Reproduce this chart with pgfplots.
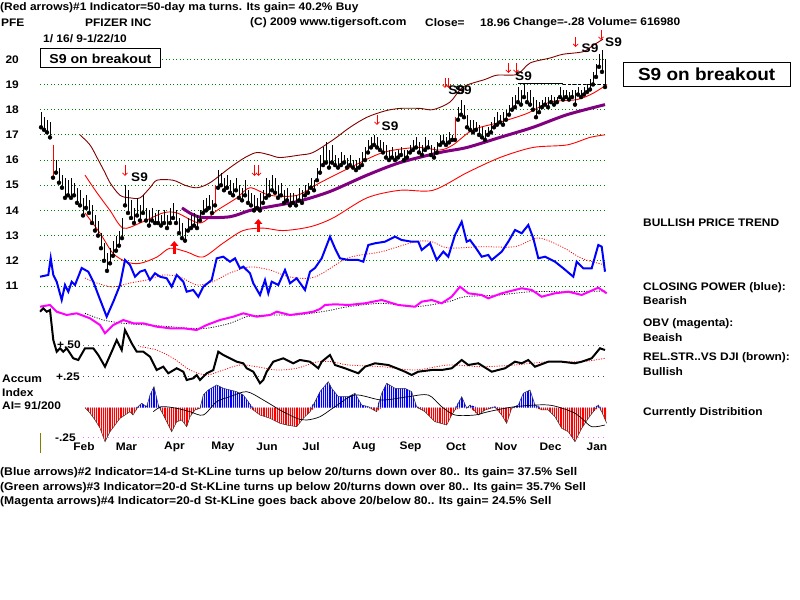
\documentclass[border=0pt]{standalone}
\usepackage{fontspec}
\setmainfont{Liberation Sans}[FakeStretch=1.09]
\usepackage{pgfplots}
\pgfplotsset{compat=1.18}
\usepackage{pgfplotstable}
\usepgfplotslibrary{fillbetween}
\usetikzlibrary{arrows.meta,patterns.meta}
\definecolor{gridg}{RGB}{0,128,0}
\definecolor{dkred}{RGB}{128,0,0}
\definecolor{purp}{RGB}{128,0,128}
\definecolor{mag}{RGB}{255,0,255}
\definecolor{olv}{RGB}{128,128,0}
\newcommand{\ft}{\bfseries\fontsize{11}{13}\selectfont}

% price bars: x(pixel column) low high (price in $)
\pgfplotstableread{
x lo hi
41 17.3 17.9
44 17.2 17.7
47 17.1 17.6
50 16.9 17.5
56 15.5 16.0
59 15.1 15.7
62 14.9 15.4
65 14.5 15.3
68 14.6 15.2
71 14.5 15.3
74 14.6 15.1
77 14.3 14.9
80 14.2 14.8
83 13.8 14.5
86 14.1 14.6
89 13.9 14.4
92 13.5 14.2
95 13.2 13.8
98 13.0 13.6
101 12.5 13.1
104 12.0 12.7
107 11.6 12.3
110 11.9 12.5
113 12.2 12.8
116 12.4 13.0
119 12.6 13.2
122 12.9 13.7
125 14.2 15.0
128 13.9 14.8
131 13.7 14.4
134 13.5 14.1
137 13.8 14.5
140 13.6 14.2
143 13.9 14.6
146 13.6 14.1
149 13.4 14.0
152 13.6 14.1
155 13.5 13.9
158 13.5 14.0
161 13.4 13.8
164 13.5 14.0
167 13.3 13.8
170 13.5 14.1
173 13.7 14.3
176 13.5 14.0
179 13.1 13.7
182 12.9 13.5
185 12.8 13.3
188 13.2 13.7
191 13.3 13.8
194 13.4 13.9
197 13.3 13.8
200 13.6 14.0
203 13.9 14.4
206 14.0 14.5
209 14.1 14.6
212 13.9 14.4
218 14.9 15.6
221 15.0 15.5
224 14.8 15.3
227 14.9 15.4
230 14.7 15.2
233 14.6 15.1
236 14.8 15.3
239 14.5 15.0
242 14.4 14.9
245 14.6 15.2
248 14.3 14.8
251 14.2 14.7
254 14.0 14.6
257 14.1 14.5
260 14.0 14.7
263 14.3 14.8
266 14.5 15.3
269 14.6 15.2
272 14.8 15.4
275 14.7 15.3
278 14.5 15.0
281 14.6 15.1
284 14.3 14.8
287 14.4 14.9
290 14.2 14.7
293 14.3 14.7
296 14.2 14.6
299 14.4 14.9
302 14.3 14.8
305 14.6 15.0
308 14.7 15.1
311 14.9 15.3
314 14.8 15.2
317 15.2 15.7
320 15.5 16.2
323 15.8 16.5
326 15.9 16.7
329 15.7 16.4
332 15.9 16.6
335 15.8 16.2
338 15.7 16.1
341 15.8 16.3
344 15.9 16.2
347 15.7 16.1
350 15.8 16.2
353 15.7 16.0
356 15.6 16.0
359 15.7 16.1
362 15.8 16.3
365 16.0 16.5
368 16.3 16.8
371 16.5 16.9
374 16.6 17.0
377 16.5 16.9
380 16.4 16.8
383 16.3 16.7
386 16.1 16.6
389 16.0 16.4
392 16.1 16.5
395 16.0 16.3
398 16.1 16.4
401 16.2 16.5
404 16.0 16.4
407 16.1 16.4
410 16.3 16.6
413 16.4 16.8
416 16.5 16.9
419 16.3 16.7
422 16.2 16.6
425 16.4 16.9
428 16.5 16.8
431 16.2 16.6
434 16.1 16.5
437 16.3 16.7
440 16.6 17.0
443 16.7 17.0
446 16.6 16.9
449 16.7 17.1
452 16.8 17.0
458 17.6 18.1
461 17.8 18.4
464 17.7 18.2
467 17.3 17.8
470 17.2 17.6
473 17.1 17.6
476 17.2 17.5
479 17.0 17.4
482 16.9 17.3
485 16.8 17.2
488 17.0 17.3
491 17.1 17.5
494 17.3 17.7
497 17.4 17.9
500 17.5 17.8
503 17.4 17.9
506 17.6 18.0
509 17.8 18.2
512 18.0 18.5
515 18.1 18.6
518 18.3 18.9
521 18.2 18.8
524 18.5 19.0
527 18.3 18.7
530 18.2 18.8
533 18.0 18.5
536 17.7 18.4
539 17.9 18.3
542 18.1 18.4
545 18.2 18.5
548 18.1 18.5
551 18.3 18.6
554 18.2 18.5
557 18.3 18.5
560 18.5 18.9
563 18.4 18.8
566 18.5 18.8
569 18.4 18.7
572 18.5 18.8
575 18.2 18.8
578 18.6 18.9
581 18.5 18.8
584 18.6 18.9
587 18.7 19.0
590 18.8 19.2
593 19.0 19.5
596 19.3 19.8
599 19.7 20.2
602 19.5 20.35
605 18.9 20.0
}\tbBars
\pgfplotstableread{
x lo hi
53 15.3 16.6
215 14.2 15.0
455 16.8 17.7
}\tbRedBars
\pgfplotstableread{
x p
80 17.0
90 16.6
97 16.1
105 15.5
110 15.1
120 14.6
130 14.5
140 14.5
150 14.9
157 15.2
173 15.2
185 15.0
197 14.9
210 15.1
230 15.7
245 16.1
257 16.3
270 16.2
280 16.1
300 16.2
313 16.3
333 16.8
350 17.3
367 17.7
385 17.95
400 18.05
420 18.05
433 18.0
450 18.3
463 18.9
485 19.2
497 19.37
517 19.4
530 19.85
550 20.05
563 20.2
583 20.3
593 20.55
603 20.8
}\tbUp
\pgfplotstableread{
x p
85 15.4
97 14.7
110 14.0
123 13.3
140 13.5
163 13.9
177 13.9
200 13.5
217 14.0
237 14.5
250 14.9
270 14.6
297 14.6
320 15.1
350 15.7
383 16.3
417 16.5
440 16.4
453 16.6
473 17.2
500 17.5
527 17.85
550 18.3
577 18.4
593 18.65
607 19.0
}\tbMid
\pgfplotstableread{
x p
85 13.9
100 13.1
113 12.3
127 11.95
140 11.9
157 12.15
170 12.5
187 12.35
203 12.15
223 12.7
243 13.2
263 13.3
283 13.2
310 13.35
333 13.7
367 14.5
400 14.8
433 14.8
467 15.5
500 16.1
533 16.5
567 16.6
590 16.9
605 17.0
}\tbLow
\pgfplotstableread{
x p
182 14.1
192 13.85
203 13.72
230 13.75
250 14.0
270 14.15
297 14.35
315 14.55
333 14.8
367 15.4
400 15.9
440 16.3
467 16.5
500 16.9
533 17.3
567 17.8
605 18.2
}\tbMA
% indicator panels: x, py (vertical position, pixel rows)
\pgfplotstableread{
x py
40 276.7
48.3 275
50.7 258
53.3 275
56.7 281.7
61.7 300
65 285
68.3 291.7
71.7 281.7
75 285
81.7 268
88.3 271.7
93.3 281.7
98.3 295
106.7 316.7
113.3 301.7
120 285
125 260
130 265
135 276.7
140 271.7
145 270
150 280
155 273.3
160 276.7
166.7 278.3
171.7 286.7
176.7 275
183.3 281.7
186.7 291.7
193.3 290
198.3 296.7
203.3 286.7
211.7 280
216.7 258.3
223.3 256.7
230 261.7
235 258.3
240 268.3
243.3 266.7
250 273.3
253.3 283.3
260 295
265 280
268.3 293.3
271.7 281.7
278.3 285
285 270
290 283.3
296.7 278.3
305 290
310 271.7
315 268
321.7 258.3
330 236.7
335 248.3
340 258.3
348.3 260
358.3 260
363.3 261.7
368.3 245
375 243.3
385 241.7
395 236.7
401.7 240
411.7 241.7
418.3 241.7
421.7 250
430 243.3
436.7 260
443.3 251.7
448.3 256.7
455 235
461.7 221.7
466.7 241.7
470 240
475 246.7
481.7 256.7
488.3 255
491.7 260
501.7 251.7
508.3 241.7
515 230
521.7 233.3
528.3 225
533.3 238.3
538.3 258.3
545 256.7
555 261.7
563.3 268.3
573.3 276.7
576.7 261.7
583.3 268.3
591.7 268.3
598.3 245
601.7 246.7
605 271.7
}\tbCP
\pgfplotstableread{
x py
85 278
96.7 283
113 287
130 283
146.7 280
163 275
180 277
196.7 285
213 281.7
230 273
250 267
270 270
290 277
315 277
348 258
381.7 251.7
415 241.7
431.7 241.7
448 248
481.7 246.7
515 246.7
538 238
561.7 246.7
581.7 258.3
605 265
}\tbCPma
\pgfplotstableread{
x py
40 306.7
50 305
56.7 311.7
66.7 315
76.7 313.3
90 318.3
100 325
105 333.3
113.3 325
123.3 320
133.3 323.3
143.3 323.3
156.7 326.7
170 328.3
183.3 328.3
196.7 330
206.7 325
220 320
233.3 316.7
243.3 313.3
256.7 316.7
270 315
276.7 311.7
290 315
303.3 313.3
313.3 311.7
320 309
325 305
335 304.3
348.3 305
365 303.3
381.7 300
398.3 305
415 306.7
421.7 301.7
431.7 300
441.7 303.3
451.7 296.7
460 286.7
468.3 293.3
481.7 295
488.3 298.3
501.7 293.3
521.7 288.3
531.7 290
541.7 296.7
555 293.3
568.3 291.7
581.7 295
598.3 287.7
606.7 293.3
}\tbOBV
\pgfplotstableread{
x py
85 313.3
103.3 320
123.3 323.3
146.7 325
170 326.7
190 328.3
206.7 328.3
230 323.3
246.7 316.7
270 315
296.7 315
320 312
331.7 310
348.3 306.7
381.7 303.3
415 306.7
448.3 301.7
465 296.7
498.3 295
531.7 291.7
565 291.7
605 291
}\tbOBVma
\pgfplotstableread{
x py
40 311.7
43.3 308.3
46.7 311.7
50 310
53.3 340
56.7 351.7
60 348.3
63.3 351.7
66.7 348.3
73.3 358.3
78.3 360
85 348.3
93.3 348.3
98.3 355
105 366.7
111.7 351.7
116.7 340
121.7 350
125 330
131.7 343.3
136.7 351.7
143.3 351.7
150 356.7
156.7 370
163.3 366.7
168.3 373.3
176.7 368.3
183.3 371.7
186.7 380
193.3 378.3
196.7 375
200 380
206.7 373.3
213.3 370
218.3 351.7
223.3 355
230 358.3
236.7 361.7
243.3 363.3
246.7 368.3
253.3 371.7
260 383.3
263.3 380
266.7 371.7
273.3 361.7
283.3 358.3
293.3 363.3
300 360
310 361.7
318.3 368.3
321.7 361.7
330 355
335 365
345 368.3
358.3 373.3
365 366.7
375 363.3
388.3 365
396.7 368.3
405 371.7
411.7 375
418.3 371.7
431.7 370
441.7 370
451.7 368.3
461.7 360
468.3 365
478.3 363.3
491.7 371.7
505 368.3
515 361.7
521.7 363.3
528.3 360
535 366.7
548.3 361.7
561.7 361.7
575 363.3
581.7 361.7
591.7 358.3
600 348.3
605 350
}\tbRS
\pgfplotstableread{
x py
140 346.7
156.7 350
173.3 358.3
190 370
206.7 375
223.3 370
240 365
256.7 366.7
276.7 370
296.7 368.3
316.7 362
331.7 361.7
348.3 365
381.7 366.7
415 370
448.3 365
481.7 366.7
515 365
548.3 361.7
581.7 361.7
605 358.3
}\tbRSma
\pgfplotstableread{
x py
85 407.7
90 413
95 420
100 428
105 441.7
110 431.7
115 425
120 418.3
125 415
130 411.7
133 415
138 406.7
141.7 403.3
146.7 406.7
150 395
154 386.7
158.3 405
161.7 411.7
166.7 421.7
171.7 431.7
176.7 421.7
181.7 420
186.7 426.7
190 416.7
195 410
200 408.3
203.3 395
208.3 390
216.7 385
223.3 388.3
230 390
236.7 391.7
243.3 395
248.3 401.7
253.3 410
260 415
270 418.3
280 423.3
286.7 425
296.7 426.7
303.3 418.3
310 411.7
315 401.7
320 391.7
328.3 381.7
331.7 388.3
338.3 396.7
348.3 396.7
355 393.3
361.7 405
368.3 406.7
376.7 411.7
381.7 393.3
386.7 383.3
395 388.3
405 388.3
411.7 391.7
416.7 406.7
425 411.7
435 421.7
446.7 425
451.7 415
455 410
461.7 396.7
466.7 408.3
470 405
478.3 415
485 410
495 406.7
501.7 415
506.7 423.3
511.7 408.3
518.3 405
523.3 393.3
530 390
535 405
541.7 410
548.3 410
555 416.7
561.7 428.3
568.3 431.7
575 441.7
581.7 428.3
588.3 418.3
593.3 411.7
598.3 405
601.7 411.7
606.7 423.3
}\tbAcc
\pgfplotstableread{
x py
153.3 411.7
161.7 406.7
176.7 408.3
190 411.7
203.3 415
216.7 401.7
230 396.7
246.7 391.7
263.3 400
280 410
296.7 418.3
306.7 420
320 416.7
335 406.7
355 395
381.7 400
408.3 396.7
428.3 395
441.7 406.7
455 415
475 415
488.3 411.7
515 406.7
548.3 405
571.7 411.7
581.7 418.3
591.7 426.7
605 425
}\tbAccma

\begin{document}
\begin{tikzpicture}
\begin{axis}[
  at={(0,0)}, anchor=south west,
  width=800bp, height=600bp, scale only axis,
  xmin=0, xmax=800, ymin=-1.465, ymax=22.354,
  axis line style={draw=none}, tick style={draw=none}, major tick length=0pt,
  clip=false,
  ytick={11,12,13,14,15,16,17,18,19,20},
  xtick={84,126.5,174.5,223,267,311,364,410.5,456,506,550.5,597},
  xticklabels={Feb,Mar,Apr,May,Jun,Jul,Aug,Sep,Oct,Nov,Dec,Jan},
  /pgf/number format/assume math mode=true,
  ticklabel style={font=\ft},
  yticklabel style={anchor=west, xshift=2bp},
  xticklabel style={anchor=center, yshift=153bp},
]
% dotted price grid
\pgfplotsinvokeforeach{11,12,13,14,15,16,17,18,19}{
  \addplot[gridg, line width=1bp, dash pattern=on 1bp off 2.5bp, forget plot] coordinates {(40,#1) (605,#1)};
}
\addplot[gridg, line width=1bp, dash pattern=on 1bp off 2.5bp] coordinates {(162,20) (605,20)};
% indicator reference levels (+.50, +.25, -.25)
\addplot[black!60, line width=1bp, dash pattern=on 1bp off 4bp] coordinates {(83,8.630) (605,8.630)};
\addplot[black!70, line width=1bp, dash pattern=on 1bp off 4bp] coordinates {(83,7.400) (605,7.400)};
\addplot[mag!60, line width=1bp, dash pattern=on 1bp off 4bp] coordinates {(83,4.978) (605,4.978)};
% accumulation index (histogram area: red below zero, blue above)
\addplot[name path=accneg, draw=none] table[x=x, y expr={min(20-(\thisrow{py}-59.3)/25.19, 6.169)}] {\tbAcc};
\addplot[name path=accpos, draw=none] table[x=x, y expr={max(20-(\thisrow{py}-59.3)/25.19, 6.169)}] {\tbAcc};
\addplot[name path=zero, draw=none] coordinates {(85,6.169) (606.7,6.169)};
\addplot[fill=red!12, draw=none, postaction={pattern={Lines[angle=90,distance=2.2bp,line width=1.1bp]}, pattern color=red}] fill between[of=accneg and zero];
\addplot[fill=blue!12, draw=none, postaction={pattern={Lines[angle=90,distance=2.2bp,line width=1.1bp]}, pattern color=blue}] fill between[of=accpos and zero];
\addplot[black!80, line width=0.5bp] table[x=x, y expr={20-(\thisrow{py}-59.3)/25.19}] {\tbAcc};
\addplot[black, line width=0.7bp, smooth] table[x=x, y expr={20-(\thisrow{py}-59.3)/25.19}] {\tbAccma};
% bands and moving average
\addplot[dkred, line width=0.9bp, smooth] table[x=x,y=p] {\tbUp};
\addplot[red, line width=0.9bp, smooth] table[x=x,y=p] {\tbMid};
\addplot[red, line width=0.9bp, smooth] table[x=x,y=p] {\tbLow};
\addplot[purp, line width=3bp, smooth] table[x=x,y=p] {\tbMA};
% resistance line
\addplot[black, line width=1bp] coordinates {(518,19.03) (563,19.03)};
\addplot[black, line width=1bp, dash pattern=on 3bp off 2bp] coordinates {(563,19.0) (605,19.0)};
% price bars
\addplot[only marks, mark=none, error bars/.cd, y dir=plus, y explicit, error mark=none,
  error bar style={black, line width=1bp}] table[x=x, y=lo, y error expr=\thisrow{hi}-\thisrow{lo}] {\tbBars};
\addplot[only marks, mark=none, error bars/.cd, y dir=plus, y explicit, error mark=none,
  error bar style={red, line width=1bp}] table[x=x, y=lo, y error expr=\thisrow{hi}-\thisrow{lo}] {\tbRedBars};
% closing power
\addplot[red, line width=0.8bp, dash pattern=on 1bp off 1.5bp, smooth] table[x=x, y expr={20-(\thisrow{py}-59.3)/25.19}] {\tbCPma};
\addplot[blue, line width=2bp] table[x=x, y expr={20-(\thisrow{py}-59.3)/25.19}] {\tbCP};
% OBV
\addplot[black, line width=0.8bp, dash pattern=on 1bp off 1.5bp, smooth] table[x=x, y expr={20-(\thisrow{py}-59.3)/25.19}] {\tbOBVma};
\addplot[mag, line width=2bp] table[x=x, y expr={20-(\thisrow{py}-59.3)/25.19}] {\tbOBV};
% relative strength
\addplot[red, line width=0.8bp, dash pattern=on 1bp off 1.5bp, smooth] table[x=x, y expr={20-(\thisrow{py}-59.3)/25.19}] {\tbRSma};
\addplot[black, line width=2bp] table[x=x, y expr={20-(\thisrow{py}-59.3)/25.19}] {\tbRS};
\end{axis}
\begin{scope}[x=1bp, y=-1bp, shift={(0,600bp)}, every node/.style={font=\ft, inner sep=0pt}]
\node[anchor=west] at (0,7.5) {(Red arrows)\#1 Indicator=50-day ma turns. Its gain= 40.2\% Buy};
\node[anchor=west] at (1,22.5) {PFE};
\node[anchor=west] at (85,22.5) {PFIZER INC};
\node[anchor=west] at (250,22.5) {(C) 2009 www.tigersoft.com};
\node[anchor=west] at (425,22.5) {Close=};
\node[anchor=west] at (480,22.5) {18.96};
\node[anchor=west] at (513,22.5) {Change=-.28 Volume= 616980};
\node[anchor=west] at (43,39) {1/ 16/ 9-1/22/10};
\node[draw, line width=1bp, minimum width=120.7bp, minimum height=19bp, font=\bfseries\fontsize{13}{15}\selectfont] at (100.4,58.5) {S9 on breakout};
\node[draw, line width=1bp, minimum width=166.7bp, minimum height=24bp, font=\bfseries\fontsize{17.5}{20}\selectfont] at (706.7,74.7) {S9 on breakout};
% signal arrows and labels
\begin{scope}[red, line width=0.8bp, -{Straight Barb[length=2.5bp,width=5bp]}]
\draw (125,165) -- (125,176);
\draw (254.5,165) -- (254.5,176);
\draw (258.5,165) -- (258.5,176);
\draw (377,115) -- (377,125);
\draw (445,78) -- (445,88);
\draw (448.5,78) -- (448.5,88);
\draw (508.3,63) -- (508.3,73);
\draw (516,63) -- (516,73);
\draw (575.7,37) -- (575.7,47);
\draw (601,30) -- (601,40);
\end{scope}
\draw[red, line width=3bp, -{Triangle[length=5bp,width=8bp]}] (174.3,254) -- (174.3,241);
\draw[red, line width=3bp, -{Triangle[length=5bp,width=8bp]}] (258.3,232) -- (258.3,219);
\begin{scope}[every node/.style={font=\bfseries\fontsize{12.5}{14}\selectfont, inner sep=0pt}]
\node at (139.5,177) {S9};
\node at (390,126) {S9};
\node at (460,90) {S9\kern-10bp S9};
\node at (523.5,76) {S9};
\node at (590,48) {S9};
\node at (613.5,42) {S9};
\end{scope}
% right-hand notes
\node[anchor=west] at (643,223) {BULLISH PRICE TREND};
\node[anchor=west] at (643,288) {CLOSING POWER (blue):};
\node[anchor=west] at (643,300.5) {Bearish};
\node[anchor=west] at (643,323.5) {OBV (magenta):};
\node[anchor=west] at (643,337.5) {Beaish};
\node[anchor=west] at (643,357.5) {REL.STR..VS DJI (brown):};
\node[anchor=west] at (643,371.5) {Bullish};
\node[anchor=west] at (643,413) {Currently Distribition};
% left-hand panel labels
\node[anchor=west] at (57,345) {+.50};
\node[anchor=west] at (56,377) {+.25};
\node[anchor=west] at (55,437.5) {-.25};
\node[anchor=west] at (2,379) {Accum};
\node[anchor=west] at (2,392.5) {Index};
\node[anchor=west] at (2,406) {AI= 91/200};
\draw[olv, line width=1bp] (40,433) -- (40,453);
% bottom notes
\begin{scope}[every node/.style={font=\bfseries\fontsize{11.2}{13}\selectfont, inner sep=0pt}]
\node[anchor=west] at (0,473) {(Blue arrows)\#2 Indicator=14-d St-KLine turns up below 20/turns down over 80.. Its gain= 37.5\% Sell};
\node[anchor=west] at (0,487.5) {(Green arrows)\#3 Indicator=20-d St-KLine turns up below 20/turns down over 80.. Its gain= 35.7\% Sell};
\node[anchor=west] at (0,502) {(Magenta arrows)\#4 Indicator=20-d St-KLine goes back above 20/below 80.. Its gain= 24.5\% Sell};
\end{scope}
\end{scope}
\pgfresetboundingbox
\path[use as bounding box] (0,0) rectangle (800bp,600bp);
\end{tikzpicture}
\end{document}
